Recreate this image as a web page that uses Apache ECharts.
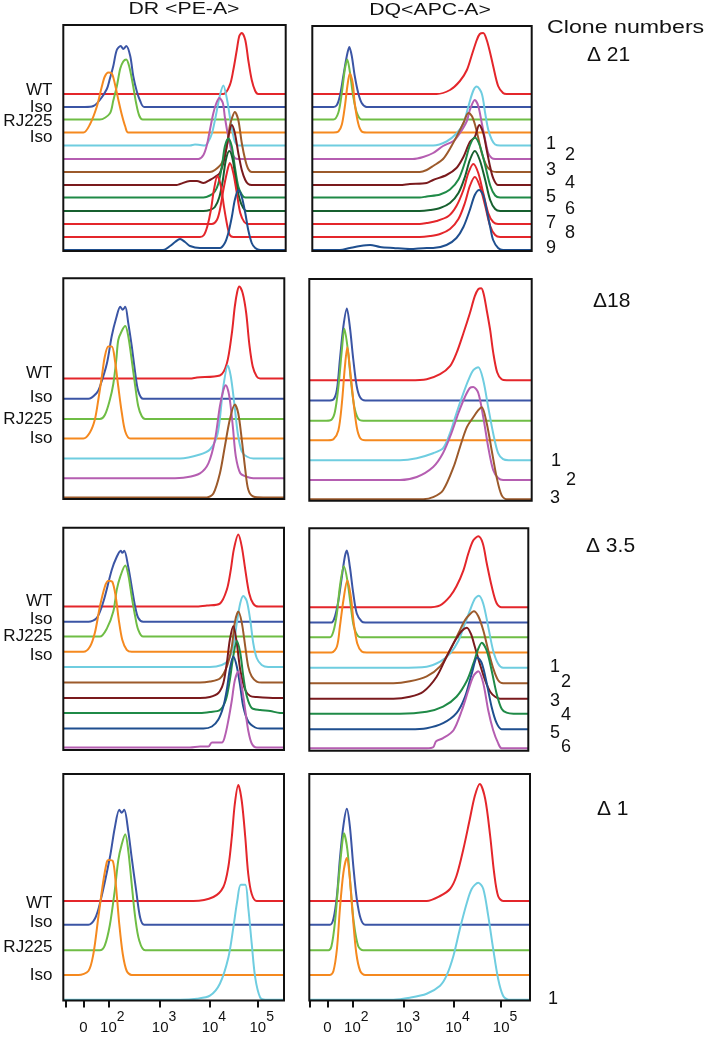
<!DOCTYPE html>
<html><head><meta charset="utf-8">
<script src="https://cdn.jsdelivr.net/npm/echarts@6/dist/echarts.min.js"></script>
<style>html,body{margin:0;padding:0;background:#fff}#c{width:707px;height:1037px}</style>
</head><body><div id="c"></div>
<script>
// ---------- DATA (x = display position in decades of fluorescence, y = relative count) ----------
const tickValues = [1.14, 1.5, 2, 3.04, 4.04, 5];
const tickLabels = ['', '0', '10^2', '10^3', '10^4', '10^5'];
const columnTitles = ['DR <PE-A>', 'DQ<APC-A>'];
const sampleLabels = ['WT', 'Iso', 'RJ225', 'Iso'];
const deltaLabels = ['\u0394 21', '\u039418', '\u0394 3.5', '\u0394 1'];
const cloneCounts = [9, 3, 6, 1];

// vertical offset (stacking baseline) of each histogram track
const off21 = [157, 144, 131.5, 118.5, 105.5, 92, 79, 66, 53.5, 40, 27, 14, 1];
const off18 = [120.5, 100.2, 80, 60.5, 40.5, 20.7, 1.5];
const off35 = [143.4, 128.2, 113.4, 98.2, 83, 67.4, 52, 37, 21.5, 2.5];
const off1 = [99.5, 75.7, 50.2, 25.5, 0.8];

// Δ21 – DR
const d21_DR = [
 [[4.31,0],[4.44,9],[4.51,24],[4.58,44],[4.63,58],[4.68,61],[4.75,54],[4.81,34],[4.88,14],[4.95,3],[5.01,0]],
 [[1.53,0],[1.70,1],[1.83,7],[1.97,18],[2.03,28],[2.10,41],[2.17,57],[2.25,61],[2.30,58],[2.36,61],[2.44,51],[2.50,31],[2.57,16],[2.64,6],[2.72,0]],
 [[1.83,0],[2.03,6],[2.10,19],[2.17,33],[2.24,51],[2.30,58],[2.36,60],[2.42,53],[2.49,36],[2.56,16],[2.62,4],[2.69,0]],
 [[1.50,0],[1.63,8],[1.77,26],[1.87,46],[1.93,56],[2.00,60],[2.07,59],[2.13,49],[2.20,33],[2.27,18],[2.34,6],[2.40,0]],
 [[3.64,0],[3.74,1],[3.84,0.5],[3.94,0],[4.00,3],[4.08,12],[4.16,30],[4.24,50],[4.31,60],[4.38,47],[4.44,29],[4.50,12],[4.54,4],[4.61,0]],
 [[3.81,0],[3.91,4],[3.98,14],[4.04,29],[4.11,46],[4.17,56],[4.23,61],[4.30,56],[4.34,42],[4.41,22],[4.48,7],[4.54,1],[4.61,0]],
 [[4.04,0],[4.14,2],[4.28,9],[4.38,26],[4.44,46],[4.49,55],[4.54,60],[4.61,52],[4.68,29],[4.75,12],[4.81,3],[4.88,0]],
 [[3.37,0],[3.44,1],[3.64,4],[3.78,4],[3.91,2],[4.04,5],[4.14,8],[4.24,12],[4.34,28],[4.41,48],[4.48,60],[4.54,52],[4.61,32],[4.68,15],[4.75,5],[4.81,1],[4.88,0]],
 [[3.91,0],[4.04,2],[4.14,6],[4.21,14],[4.28,31],[4.34,51],[4.41,59],[4.48,51],[4.54,31],[4.61,11],[4.68,3],[4.75,0]],
 [[3.91,0],[4.04,1],[4.14,4],[4.23,14],[4.30,31],[4.36,51],[4.43,60],[4.50,51],[4.56,31],[4.63,13],[4.71,3],[4.78,0]],
 [[4.08,0],[4.18,4],[4.24,14],[4.31,34],[4.38,51],[4.44,61],[4.51,51],[4.58,31],[4.65,11],[4.73,2],[4.81,0]],
 [[3.84,0],[3.92,2],[3.99,11],[4.06,27],[4.12,47],[4.19,61],[4.26,51],[4.32,31],[4.39,11],[4.44,2],[4.51,0]],
 [[3.10,0],[3.24,4],[3.34,8],[3.44,11],[3.54,8],[3.64,4],[3.84,2],[4.11,2],[4.24,2],[4.34,7],[4.41,17],[4.48,33],[4.54,50],[4.61,60],[4.68,53],[4.75,37],[4.81,20],[4.88,7],[4.95,2],[5.05,0]]
];
// Δ21 – DQ
const d21_DQ = [
 [[3.70,0],[3.97,4],[4.17,13],[4.31,24],[4.41,39],[4.51,54],[4.57,60],[4.64,61],[4.71,54],[4.78,41],[4.84,28],[4.94,8],[5.04,1],[5.11,0]],
 [[1.62,0],[1.69,2],[1.75,11],[1.82,31],[1.89,51],[1.94,60],[1.99,51],[2.05,31],[2.12,14],[2.19,4],[2.29,0]],
 [[1.62,0],[1.72,7],[1.79,27],[1.85,50],[1.90,60],[1.95,48],[2.02,23],[2.09,7],[2.19,0]],
 [[1.62,0],[1.72,1],[1.79,8],[1.85,26],[1.90,46],[1.95,59],[2.01,49],[2.05,29],[2.12,9],[2.19,1],[2.29,0]],
 [[3.63,0],[3.90,4],[4.10,12],[4.24,22],[4.34,39],[4.44,55],[4.51,59],[4.61,52],[4.68,32],[4.74,16],[4.81,6],[4.88,1],[4.98,0]],
 [[3.22,0],[3.43,2],[3.63,6],[3.83,13],[4.04,18],[4.17,26],[4.31,38],[4.37,49],[4.47,59],[4.54,53],[4.61,36],[4.68,19],[4.74,6],[4.81,1],[4.88,0]],
 [[3.36,0],[3.50,2],[3.63,6],[3.83,13],[4.00,26],[4.14,39],[4.24,49],[4.34,59],[4.41,56],[4.47,48],[4.54,34],[4.61,19],[4.71,6],[4.81,1],[4.91,0]],
 [[2.96,0],[3.16,1],[3.50,2],[3.63,5],[3.90,10],[4.10,17],[4.24,28],[4.37,43],[4.47,48],[4.56,60],[4.64,52],[4.71,35],[4.78,18],[4.84,7],[4.94,0]],
 [[3.36,0],[3.50,1],[3.77,3],[3.97,8],[4.14,18],[4.27,35],[4.37,52],[4.47,60],[4.57,52],[4.68,32],[4.78,12],[4.88,2],[4.98,0]],
 [[3.36,0],[3.57,1],[3.77,3],[3.97,8],[4.14,18],[4.27,34],[4.37,51],[4.47,60],[4.57,51],[4.68,31],[4.78,11],[4.88,2],[4.98,0]],
 [[3.36,0],[3.50,1],[3.70,3],[3.94,8],[4.10,18],[4.24,34],[4.34,51],[4.44,60],[4.54,51],[4.64,31],[4.74,11],[4.84,2],[4.94,0]],
 [[3.36,0],[3.57,1],[3.77,3],[3.97,8],[4.14,18],[4.27,34],[4.37,51],[4.47,60],[4.57,51],[4.68,31],[4.78,11],[4.88,2],[4.98,0]],
 [[1.75,0],[1.95,2],[2.16,4],[2.36,5],[2.56,3],[2.83,2],[3.16,1],[3.50,2],[3.63,2],[3.90,5],[4.10,12],[4.24,23],[4.37,40],[4.47,55],[4.56,60],[4.64,55],[4.71,40],[4.78,23],[4.84,10],[4.94,2],[5.04,0]]
];
// Δ18 – DR
const d18_DR = [
 [[3.64,0],[3.78,1],[4.24,3],[4.38,15],[4.48,45],[4.54,72],[4.59,87],[4.63,92],[4.70,85],[4.77,65],[4.83,35],[4.90,12],[4.98,2],[5.05,0]],
 [[1.60,0],[1.77,6],[1.83,12],[1.97,35],[2.07,63],[2.16,81],[2.24,92],[2.29,89],[2.34,92],[2.40,76],[2.47,53],[2.54,26],[2.60,8],[2.70,0]],
 [[1.83,0],[1.93,4],[2.03,19],[2.10,35],[2.16,59],[2.20,79],[2.27,88],[2.34,93],[2.40,83],[2.47,59],[2.54,33],[2.60,13],[2.67,3],[2.74,0]],
 [[1.50,0],[1.63,6],[1.73,19],[1.80,39],[1.87,62],[1.93,82],[2.00,92],[2.07,92],[2.13,79],[2.20,52],[2.27,26],[2.34,7],[2.44,0]],
 [[3.44,0],[3.84,4],[4.04,9],[4.18,22],[4.24,40],[4.31,72],[4.40,93],[4.46,82],[4.53,55],[4.60,25],[4.68,7],[4.78,2],[4.91,0]],
 [[3.24,0],[3.57,1],[3.84,5],[4.01,15],[4.14,38],[4.24,72],[4.31,88],[4.36,93],[4.43,82],[4.50,52],[4.56,22],[4.65,5],[4.75,2],[4.91,0]],
 [[3.98,0],[4.11,4],[4.24,24],[4.34,51],[4.44,78],[4.54,93],[4.61,84],[4.68,58],[4.75,28],[4.81,8],[4.91,1],[5.11,0]]
];
// Δ18 – DQ
const d18_DQ = [
 [[3.16,0],[3.50,1],[3.77,6],[3.97,14],[4.10,27],[4.24,47],[4.37,67],[4.47,84],[4.54,91],[4.60,92],[4.65,86],[4.71,70],[4.78,50],[4.84,28],[4.92,8],[5.01,1],[5.11,0]],
 [[1.51,0],[1.62,1],[1.69,11],[1.75,41],[1.82,74],[1.89,92],[1.95,74],[2.02,41],[2.09,14],[2.16,3],[2.26,0]],
 [[1.47,0],[1.58,1],[1.65,9],[1.72,34],[1.79,71],[1.84,92],[1.91,71],[1.97,41],[2.04,14],[2.12,2],[2.22,0]],
 [[1.51,0],[1.62,1],[1.72,10],[1.79,37],[1.85,73],[1.90,93],[1.95,73],[2.02,40],[2.09,13],[2.16,2],[2.26,0]],
 [[2.96,0],[3.30,2],[3.63,7],[3.83,12],[3.97,27],[4.10,47],[4.24,67],[4.34,80],[4.44,90],[4.54,93],[4.64,80],[4.74,53],[4.84,27],[4.94,7],[5.04,1],[5.15,0]],
 [[2.96,0],[3.30,3],[3.63,13],[3.83,27],[4.00,47],[4.14,67],[4.27,83],[4.37,92],[4.44,93],[4.54,87],[4.64,63],[4.74,33],[4.84,10],[4.94,2],[5.04,0]],
 [[3.43,0],[3.63,2],[3.83,9],[4.04,32],[4.17,52],[4.31,72],[4.44,82],[4.54,89],[4.61,92],[4.71,76],[4.81,49],[4.91,22],[5.01,4],[5.11,0]]
];
// Δ3.5 – DR
const d35_DR = [
 [[3.78,0],[3.98,1],[4.24,3],[4.38,17],[4.46,37],[4.52,57],[4.61,72],[4.68,60],[4.75,37],[4.83,13],[4.91,3],[5.01,0]],
 [[1.60,0],[1.77,4],[1.90,20],[2.07,52],[2.17,65],[2.25,71],[2.28,69],[2.32,71],[2.40,55],[2.47,35],[2.54,15],[2.60,4],[2.70,0]],
 [[1.83,0],[1.97,8],[2.10,25],[2.17,47],[2.24,60],[2.34,71],[2.40,62],[2.47,40],[2.54,20],[2.60,7],[2.70,0]],
 [[1.50,0],[1.63,5],[1.73,19],[1.83,45],[1.93,65],[2.00,71],[2.08,70],[2.15,55],[2.21,32],[2.28,12],[2.37,2],[2.47,0]],
 [[4.04,0],[4.28,2],[4.41,7],[4.51,21],[4.58,44],[4.65,64],[4.71,71],[4.78,66],[4.85,47],[4.91,24],[4.98,9],[5.08,2],[5.21,0]],
 [[3.84,0],[4.04,1],[4.24,4],[4.38,16],[4.48,36],[4.54,60],[4.61,71],[4.68,60],[4.75,36],[4.81,16],[4.88,6],[4.98,1],[5.08,0]],
 [[3.84,0],[4.04,1],[4.21,5],[4.31,15],[4.38,35],[4.44,58],[4.51,72],[4.58,55],[4.65,28],[4.75,8],[4.85,2],[4.98,1],[5.38,0]],
 [[3.84,0],[4.04,1],[4.24,3],[4.36,13],[4.44,33],[4.51,57],[4.58,72],[4.65,60],[4.71,37],[4.78,17],[4.88,5],[5.05,3],[5.25,2],[5.45,0]],
 [[3.91,0],[4.08,2],[4.21,9],[4.31,22],[4.38,39],[4.44,59],[4.51,72],[4.58,62],[4.65,42],[4.71,22],[4.81,7],[4.95,1],[5.05,0]],
 [[3.64,0],[3.84,1],[4.01,1],[4.08,5],[4.28,5],[4.34,11],[4.41,27],[4.48,47],[4.54,67],[4.61,76],[4.68,61],[4.75,37],[4.81,17],[4.88,4],[4.98,0]]
];
// Δ3.5 – DQ
const d35_DQ = [
 [[3.50,0],[3.77,2],[3.97,11],[4.10,21],[4.24,37],[4.34,54],[4.44,67],[4.54,71],[4.63,64],[4.71,44],[4.81,21],[4.91,4],[5.01,0]],
 [[1.58,0],[1.65,6],[1.72,22],[1.79,46],[1.85,66],[1.89,72],[1.95,56],[2.02,29],[2.09,9],[2.19,1],[2.26,0]],
 [[1.55,0],[1.62,6],[1.69,24],[1.75,51],[1.83,71],[1.90,57],[1.97,31],[2.03,11],[2.12,1],[2.22,0]],
 [[1.58,0],[1.69,6],[1.75,26],[1.82,52],[1.90,72],[1.97,56],[2.03,29],[2.10,9],[2.19,1],[2.29,0]],
 [[2.96,0],[3.50,1],[3.77,6],[3.97,14],[4.14,27],[4.27,44],[4.37,57],[4.47,69],[4.55,72],[4.64,64],[4.74,41],[4.84,17],[4.94,4],[5.04,0]],
 [[2.83,0],[3.16,2],[3.50,7],[3.77,17],[3.97,33],[4.14,50],[4.27,63],[4.37,69],[4.45,72],[4.54,67],[4.64,53],[4.74,33],[4.84,15],[4.94,3],[5.04,0]],
 [[2.83,0],[3.16,2],[3.43,7],[3.70,22],[3.90,42],[4.07,58],[4.21,68],[4.31,71],[4.39,65],[4.47,52],[4.57,35],[4.68,18],[4.78,7],[4.88,2],[4.98,0]],
 [[2.96,0],[3.50,2],[3.83,7],[4.10,17],[4.31,33],[4.44,50],[4.54,65],[4.61,71],[4.71,63],[4.81,43],[4.91,20],[5.01,5],[5.11,1],[5.25,0]],
 [[3.16,0],[3.50,1],[3.83,6],[4.10,16],[4.27,32],[4.41,56],[4.52,72],[4.61,66],[4.71,46],[4.81,22],[4.91,6],[5.01,0]],
 [[3.50,0],[3.63,1],[3.69,7],[3.83,10],[4.04,18],[4.21,38],[4.34,58],[4.44,72],[4.54,77],[4.64,65],[4.74,38],[4.84,18],[4.94,5],[5.01,0]]
];
// Δ1 – DR
const d1_DR = [
 [[3.71,0],[4.11,4],[4.31,14],[4.41,34],[4.48,64],[4.54,97],[4.61,116],[4.68,100],[4.75,64],[4.81,27],[4.88,7],[4.98,0]],
 [[1.60,0],[1.73,6],[1.83,21],[2.03,67],[2.13,97],[2.22,115],[2.27,112],[2.32,115],[2.40,94],[2.47,67],[2.56,34],[2.64,7],[2.72,0]],
 [[1.83,0],[1.93,5],[2.03,25],[2.13,60],[2.20,90],[2.27,106],[2.34,116],[2.40,100],[2.47,66],[2.54,33],[2.62,10],[2.74,0]],
 [[1.40,0],[1.60,4],[1.70,21],[1.80,58],[1.90,94],[1.97,113],[2.00,115],[2.09,114],[2.15,91],[2.22,51],[2.29,21],[2.37,4],[2.47,0]],
 [[3.44,0],[3.78,1],[4.04,4],[4.24,16],[4.41,42],[4.51,72],[4.59,99],[4.66,115],[4.75,115],[4.81,92],[4.88,56],[4.95,22],[5.05,2],[5.15,0]]
];
// Δ1 – DQ
const d1_DQ = [
 [[3.50,0],[3.77,5],[3.97,12],[4.10,25],[4.24,52],[4.37,82],[4.47,105],[4.57,117],[4.68,102],[4.78,65],[4.86,28],[4.94,5],[5.04,0]],
 [[1.55,0],[1.62,6],[1.69,29],[1.75,66],[1.82,99],[1.89,116],[1.95,99],[2.02,59],[2.09,26],[2.17,6],[2.26,0]],
 [[1.52,0],[1.58,4],[1.65,28],[1.72,68],[1.79,104],[1.83,117],[1.90,101],[1.97,61],[2.03,28],[2.12,4],[2.22,0]],
 [[1.55,0],[1.62,4],[1.69,26],[1.75,66],[1.82,102],[1.89,117],[1.94,102],[2.01,59],[2.08,22],[2.16,4],[2.26,0]],
 [[2.83,0],[3.16,2],[3.50,6],[3.77,14],[3.90,24],[4.04,44],[4.17,71],[4.31,97],[4.41,111],[4.54,117],[4.64,111],[4.74,84],[4.84,51],[4.94,21],[5.04,4],[5.15,0]]
];

// ---------- STYLE / LAYOUT ----------
const C = {red:'#e4262b', blue:'#3b55a5', green:'#6fbd45', orange:'#f5891f', cyan:'#6fcde0',
  magenta:'#b55eb1', brown:'#9c5a2b', dred:'#7a1a1d', green2:'#1f8a47', dgreen:'#17602f', navy:'#1f4f8f'};
const colors21 = [C.red,C.blue,C.green,C.orange,C.cyan,C.magenta,C.brown,C.dred,C.green2,C.dgreen,C.red,C.red,C.navy];
const colors18 = [C.red,C.blue,C.green,C.orange,C.cyan,C.magenta,C.brown];
const colors35 = [C.red,C.blue,C.green,C.orange,C.cyan,C.brown,C.dred,C.green2,C.navy,C.magenta];
const colors1 = [C.red,C.blue,C.green,C.orange,C.cyan];

const FONT = '"Liberation Sans", Arial, Helvetica, sans-serif';
const panels = [
  {data:d21_DR, off:off21, col:colors21, box:[63.3,25,222.4,226], x:[1.096,5.562]},
  {data:d21_DQ, off:off21, col:colors21, box:[312.3,26,219.4,225], x:[1.194,5.617]},
  {data:d18_DR, off:off18, col:colors18, box:[63.3,278.3,221,220.7], x:[1.096,5.534]},
  {data:d18_DQ, off:off18, col:colors18, box:[309.3,279,222.4,221.7], x:[1.133,5.617]},
  {data:d35_DR, off:off35, col:colors35, box:[63.3,527.7,220.7,222.3], x:[1.096,5.528]},
  {data:d35_DQ, off:off35, col:colors35, box:[309.3,528.3,219,222.4], x:[1.133,5.548]},
  {data:d1_DR, off:off1, col:colors1, box:[63.3,774,220.7,226.5], x:[1.096,5.528]},
  {data:d1_DQ, off:off1, col:colors1, box:[309.3,774,220.7,226.5], x:[1.133,5.583]}
];
const sampleLabelY = [[90.3,107.5,121,137.5],[373.3,397.5,419.2,438.8],[601.7,619.5,636.7,655.8],[903,922.8,947.8,975]];
const deltaPos = [[587,55],[593,301],[586,546],[597,809]];
const clonePos = [
  [[546,144.3],[565,155],[546,170],[565,182.7],[546,196.7],[565,209.3],[546,222.7],[565,233.3],[546,248.3]],
  [[551,460.8],[566,480],[550,498.3]],
  [[550,667.5],[561,681.7],[550,700.8],[561,715],[550,733.3],[561,747.5]],
  [[548,999.2]]
];

function tickFormatter(v){
  let i = tickValues.findIndex(t => Math.abs(t - v) < 1e-6);
  if (i < 0) return '';
  const t = tickLabels[i];
  if (!t) return '';
  if (t.indexOf('^') >= 0) { const p = t.split('^'); return '{pad|}{b|' + p[0] + '}{sup|' + p[1] + '}'; }
  return '{b|' + t + '}';
}

const grids = [], xAxes = [], yAxes = [], series = [];
panels.forEach((p, i) => {
  const bottomRow = i >= 6;
  grids.push({left:p.box[0], top:p.box[1], width:p.box[2], height:p.box[3], show:true,
    borderColor:'#111', borderWidth:2, backgroundColor:'transparent', z:5, containLabel:false});
  xAxes.push({type:'value', gridIndex:i, min:p.x[0], max:p.x[1], splitLine:{show:false},
    axisLine:{show:false},
    axisTick:{show:bottomRow, customValues:tickValues, length:7, inside:false, lineStyle:{color:'#111', width:2}},
    axisLabel:{show:bottomRow, customValues:tickValues, margin:8, formatter:tickFormatter, color:'#111',
      rich:{
        b:{fontSize:15, fontFamily:FONT, color:'#111', padding:[12,0,0,0]},
        sup:{fontSize:14, fontFamily:FONT, color:'#111', padding:[0,0,9,0]},
        pad:{width:8}
      }}
  });
  yAxes.push({type:'value', gridIndex:i, min:0, max:p.box[3], show:false, splitLine:{show:false}});
  p.data.forEach((curve, k) => {
    const o = p.off[k];
    const pts = [[p.x[0], o]].concat(curve.map(q => [q[0], o + q[1]])).concat([[p.x[1], o]]);
    series.push({type:'line', xAxisIndex:i, yAxisIndex:i, data:pts, symbol:'none', showSymbol:false,
      smooth:0.3, silent:true, z:2,
      lineStyle:{color:p.col[k], width:2},
      areaStyle:{color:'#fff', opacity:1}});
  });
});

function txt(x, y, s, size, align, scaleX){
  return {type:'text', x:x, y:y, scaleX:scaleX || 1, z:20, silent:true,
    style:{text:s, fontSize:size, fontFamily:FONT, fill:'#111',
      align:align, textAlign:align, verticalAlign:'middle', textVerticalAlign:'middle'}};
}
const graphics = [];
graphics.push(txt(184, 9.5, columnTitles[0], 17, 'center', 1.25));
graphics.push(txt(430, 10.5, columnTitles[1], 17, 'center', 1.25));
graphics.push(txt(547, 28, 'Clone numbers', 19, 'left', 1.22));
sampleLabelY.forEach(row => row.forEach((y, k) => graphics.push(txt(52.5, y, sampleLabels[k], 17, 'right'))));
deltaLabels.forEach((s, r) => graphics.push(txt(deltaPos[r][0], deltaPos[r][1], s, 21, 'left')));
clonePos.forEach((row, r) => {
  for (let n = 0; n < cloneCounts[r]; n++) graphics.push(txt(row[n][0], row[n][1], String(n + 1), 18, 'left'));
});

const chart = echarts.init(document.getElementById('c'), null, {renderer:'canvas'});
chart.setOption({animation:false, backgroundColor:'#fff', grid:grids, xAxis:xAxes, yAxis:yAxes, series:series, graphic:graphics});
</script></body></html>
